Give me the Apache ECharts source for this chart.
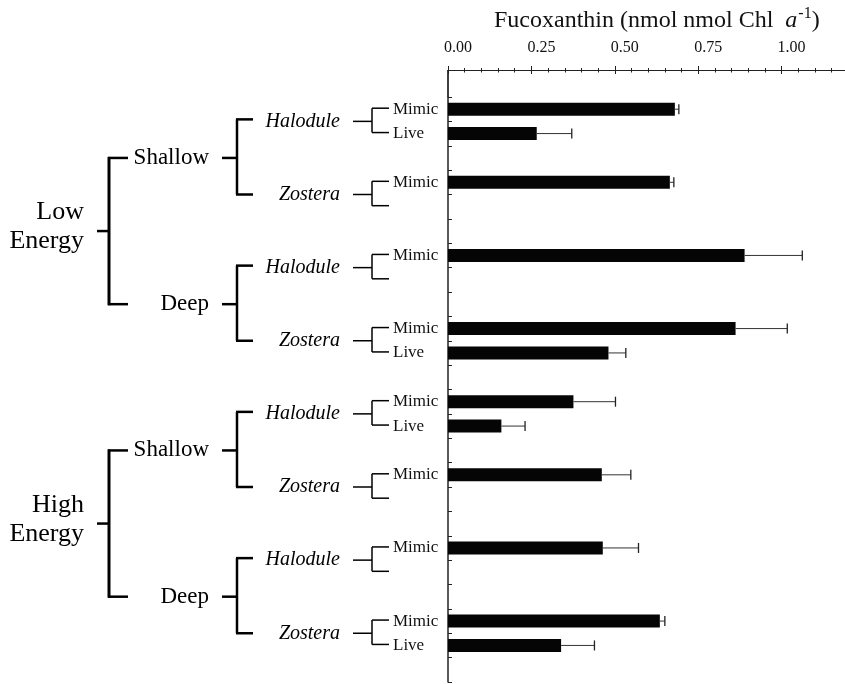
<!DOCTYPE html>
<html>
<head>
<meta charset="utf-8">
<script src="https://cdn.jsdelivr.net/npm/echarts@6/dist/echarts.min.js"></script>
<style>
html,body{margin:0;padding:0;background:#fff;}
#chart{width:845px;height:684px;}
</style>
</head>
<body>
<div id="chart"></div>
<script>
// ---- data ----
const energyLabels = ['Low\nEnergy', 'High\nEnergy'];
const depthLabels = ['Shallow', 'Deep'];
const genusLabels = ['Halodule', 'Zostera'];
// one entry per group: LE-S-Hal, LE-S-Zos, LE-D-Hal, LE-D-Zos, HE-S-Hal, HE-S-Zos, HE-D-Hal, HE-D-Zos
const mimicValues = [0.680, 0.665, 0.889, 0.862, 0.376, 0.461, 0.464, 0.635];
const mimicErrors = [0.012, 0.012, 0.173, 0.155, 0.126, 0.087, 0.107, 0.015];
const liveValues  = [0.266, null, null, 0.481, 0.160, null, null, 0.339];
const liveErrors  = [0.105, null, null, 0.052, 0.071, null, null, 0.100];
const xTickLabels = ['0.00', '0.25', '0.50', '0.75', '1.00'];
const axisTitle = 'Fucoxanthin (nmol nmol Chl';

// ---- build rows: Mimic, Live, spacer per group ----
const rowLabels = [], rowValues = [], rowErrors = [];
for (let g = 0; g < mimicValues.length; g++) {
  rowLabels.push('Mimic'); rowValues.push(mimicValues[g]); rowErrors.push(mimicErrors[g]);
  rowLabels.push(liveValues[g] != null ? 'Live' : ''); rowValues.push(liveValues[g]); rowErrors.push(liveErrors[g]);
  rowLabels.push(''); rowValues.push(null); rowErrors.push(null);
}
const rowIds = rowLabels.map((_, i) => 'r' + i);
const errData = [];
rowValues.forEach((v, i) => { if (v != null) errData.push([v + rowErrors[i], i, v]); });

const SERIF = '"Liberation Serif", "Times New Roman", serif';
const chart = echarts.init(document.getElementById('chart'), null, {renderer: 'canvas'});

const X_MAX = 1.19;
function xAxisDef(interval, inside, len, showLine, showLabel) {
  return {
    type: 'value', position: 'top', offset: 27, min: 0, max: X_MAX, interval: interval,
    splitLine: {show: false},
    axisLine: {show: showLine, lineStyle: {color: '#222', width: 1.2}},
    axisTick: {show: true, inside: inside, length: len, lineStyle: {color: '#222', width: 1}},
    minorTick: {show: false},
    axisLabel: showLabel ? {
      show: true, margin: 14, showMaxLabel: false,
      fontFamily: SERIF, fontSize: 16, color: '#111', padding: [0, 0, 0, 20],
      formatter: (v) => { const k = Math.round(v / 0.25); return (Math.abs(v - k * 0.25) < 1e-9 && k < xTickLabels.length) ? xTickLabels[k] : ''; }
    } : {show: false}
  };
}

const option = {
  backgroundColor: '#fff',
  animation: false,
  title: {
    left: 489, top: 1,
    text: '{n|' + axisTitle + '  }{i|a}{s|-1}{n|)}',
    textStyle: {
      fontWeight: 'normal',
      rich: {
        n: {fontFamily: SERIF, fontSize: 24, fontWeight: 'normal', color: '#111'},
        i: {fontFamily: SERIF, fontSize: 24, fontWeight: 'normal', fontStyle: 'italic', color: '#111'},
        s: {fontFamily: SERIF, fontSize: 16, fontWeight: 'normal', color: '#111', padding: [0, 0, 14, 1]}
      }
    }
  },
  grid: {left: 448, top: 97, right: 0, bottom: 2},
  xAxis: [
    xAxisDef(0.25, true, 4, true, true),
    xAxisDef(0.25, false, 4, false, false),
    xAxisDef(0.05, true, 2.5, false, false),
    xAxisDef(0.05, false, 2, false, false)
  ],
  yAxis: {
    type: 'category', inverse: true, boundaryGap: true, data: rowIds,
    axisLine: {show: true, lineStyle: {color: '#222', width: 1.5}},
    axisTick: {show: true, inside: true, length: 4, interval: 0, lineStyle: {color: '#222', width: 1}},
    axisLabel: {
      show: true, interval: 0, align: 'left', margin: 55,
      fontFamily: SERIF, fontSize: 17, color: '#111',
      formatter: (v, i) => rowLabels[i]
    },
    splitLine: {show: false}
  },
  series: [
    {
      type: 'bar', xAxisIndex: 0, data: rowValues, barWidth: 13,
      itemStyle: {color: '#050505'}
    },
    {
      type: 'custom', xAxisIndex: 0, data: errData,
      encode: {x: [0, 2], y: 1},
      renderItem: function (params, api) {
        const end = api.coord([api.value(0), api.value(1)]);
        const start = api.coord([api.value(2), api.value(1)]);
        const h = 5;
        return {
          type: 'group',
          children: [
            {type: 'line', shape: {x1: start[0], y1: start[1], x2: end[0], y2: end[1]}, style: {stroke: '#333', lineWidth: 1}},
            {type: 'line', shape: {x1: end[0], y1: end[1] - h, x2: end[0], y2: end[1] + h}, style: {stroke: '#222', lineWidth: 1.3}}
          ]
        };
      },
      z: 3
    }
  ]
};
chart.setOption(option);

// ---- tree annotation derived from the category axis ----
const yPix = (i) => chart.convertToPixel({yAxisIndex: 0}, i);
const x0 = chart.convertToPixel({xAxisIndex: 0}, 0);
const gfx = [];
function line(x1, y1, x2, y2, w) {
  gfx.push({type: 'line', silent: true, shape: {x1, y1, x2, y2}, style: {stroke: '#000', lineWidth: w}});
}
function text(x, y, t, size, italic, align, lh) {
  gfx.push({type: 'text', silent: true, x, y, style: {
    text: t, fontFamily: SERIF, fontSize: size, fontStyle: italic ? 'italic' : 'normal',
    fill: '#000', align: align, verticalAlign: 'middle', lineHeight: lh || size * 1.2
  }});
}
// y axis extension up to the top x axis line
line(x0, 70, x0, 97, 1.5);

const groupMid = [];
for (let g = 0; g < mimicValues.length; g++) {
  const yM = yPix(3 * g), yL = yPix(3 * g + 1);
  const mid = (yM + yL) / 2;
  groupMid.push(mid);
  line(353, mid, 372, mid, 1.5);
  line(372, yM - 1, 372, yL - 1, 1.5);
  line(372, yM - 1, 389, yM - 1, 1.5);
  line(372, yL - 1, 389, yL - 1, 1.5);
  text(340, mid, genusLabels[g % 2], 20, true, 'right');
}
const depthMid = [];
for (let d = 0; d < 4; d++) {
  const a = groupMid[2 * d], b = groupMid[2 * d + 1];
  const mid = (a + b) / 2;
  depthMid.push(mid);
  line(237, a - 2, 237, b, 2.5);
  line(236, a - 2, 253, a - 2, 2.5);
  line(236, b, 253, b, 2.5);
  line(222, mid, 237, mid, 2.5);
  text(209, mid, depthLabels[d % 2], 23, false, 'right');
}
for (let e = 0; e < 2; e++) {
  const a = depthMid[2 * e], b = depthMid[2 * e + 1];
  const mid = (a + b) / 2;
  line(109, a - 1, 109, b + 1, 3);
  line(108, a, 128, a, 2.5);
  line(108, b, 128, b, 2.5);
  line(97, mid, 109, mid, 2.5);
  text(84, mid - 4, energyLabels[e], 26, false, 'right', 29);
}
chart.setOption({graphic: gfx});
</script>
</body>
</html>
